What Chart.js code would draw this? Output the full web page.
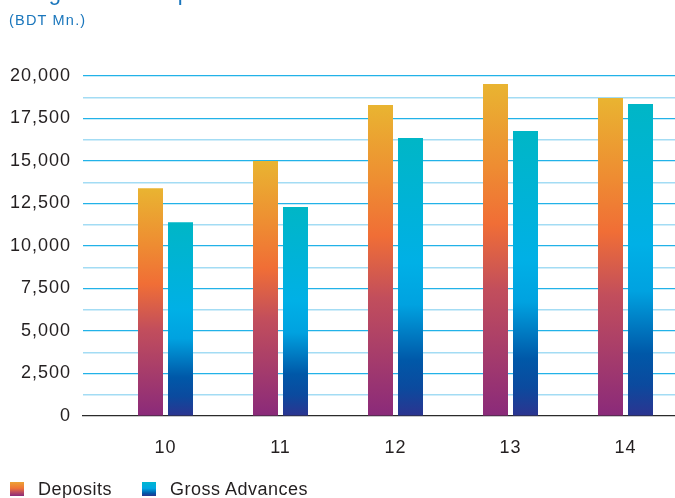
<!DOCTYPE html>
<html>
<head>
<meta charset="utf-8">
<script src="https://cdn.jsdelivr.net/npm/chart.js@4/dist/chart.umd.min.js"></script>
<style>
  html, body { margin: 0; padding: 0; background: #ffffff; }
  #wrap { position: relative; width: 675px; height: 498px; overflow: hidden; font-family: "Liberation Sans", Arial, sans-serif; }
  #chart { position: absolute; left: 0; top: 0; }
  .heading { position: absolute; left: 10px; top: -18px; font-size: 22px; line-height: 22px; letter-spacing: 1.5px; color: #1a76bc; white-space: nowrap; }
  .unit { position: absolute; left: 9px; top: 11px; font-size: 14.5px; line-height: 18px; letter-spacing: 1.2px; color: #1a76bc; white-space: nowrap; }
  .legend { position: absolute; left: 10px; top: 478px; height: 22px; display: flex; align-items: center; font-size: 18px; letter-spacing: 0.5px; color: #231f20; white-space: nowrap; }
  .legend .item { display: flex; align-items: center; margin-right: 30px; }
  .legend .box { width: 14px; height: 14px; margin-right: 14px; }
  .box.dep { background: linear-gradient(to bottom, #eca235 0%, #ef7436 45%, #c24e5c 70%, #8a2a7a 100%); }
  .box.adv { background: linear-gradient(to bottom, #00b6d0 0%, #00a8e4 45%, #0058a8 80%, #2c3490 100%); }
</style>
</head>
<body>
<div id="wrap">
  <canvas id="chart" width="675" height="498"></canvas>
  <div class="heading">Progress of Deposits and Advances</div>
  <div class="unit">(BDT Mn.)</div>
  <div class="legend">
    <div class="item"><div class="box dep"></div><span>Deposits</span></div>
    <div class="item"><div class="box adv"></div><span>Gross Advances</span></div>
  </div>
</div>
<script>
// Years (20xx) shown along the bottom axis
const categories = ['10', '11', '12', '13', '14'];

// Values in BDT million
const deposits = [13400, 15000, 18290, 19530, 18700];
const grossAdvances = [11400, 12300, 16350, 16760, 18350];

// Value axis: labelled every 2,500 with a lighter line halfway between
const yMax = 20000;
const yLabelStep = 2500;
const yGridStep = 1250;

const depositStops = [[0, '#e9b431'], [0.25, '#ee8c32'], [0.42, '#f06e36'], [0.62, '#c24e5c'], [1, '#8a2a7a']];
const advanceStops = [[0, '#00b6c6'], [0.45, '#00b0e6'], [0.6, '#00a2e0'], [0.8, '#0058a8'], [0.9, '#0b4a9e'], [1, '#2c3490']];

// Each bar gets its own vertical gradient, from its top down to the baseline
function barGradient(stops, fallback) {
  return function (ctx) {
    const chart = ctx.chart;
    if (!chart.chartArea || !ctx.parsed) return fallback;
    const y = chart.scales.y;
    const top = y.getPixelForValue(ctx.parsed.y);
    const bottom = y.getPixelForValue(0);
    const g = chart.ctx.createLinearGradient(0, top, 0, bottom);
    stops.forEach(s => g.addColorStop(s[0], s[1]));
    return g;
  };
}

const toPoints = arr => arr.map((v, i) => ({ x: i, y: v }));

// Spacing tweak for axis text
const textSpacing = {
  id: 'textSpacing',
  beforeLayout(chart) { chart.ctx.letterSpacing = '1px'; },
  beforeDraw(chart) { chart.ctx.letterSpacing = '1px'; }
};

// Category positions sit at 0..4; the range leaves room for the label column side
const xMin = -0.7174;
const xMax = 4.4304;

new Chart(document.getElementById('chart'), {
  type: 'bar',
  data: {
    datasets: [
      {
        label: 'Deposits',
        data: toPoints(deposits),
        backgroundColor: barGradient(depositStops, '#ef7436'),
        borderWidth: 0,
        categoryPercentage: 0.5217,
        barPercentage: 0.8333
      },
      {
        label: 'Gross Advances',
        data: toPoints(grossAdvances),
        backgroundColor: barGradient(advanceStops, '#00a8e4'),
        borderWidth: 0,
        categoryPercentage: 0.5217,
        barPercentage: 0.8333
      }
    ]
  },
  plugins: [textSpacing],
  options: {
    responsive: false,
    animation: false,
    devicePixelRatio: 1,
    layout: { padding: { top: 76, left: 0, right: 0, bottom: 22 } },
    plugins: {
      legend: { display: false },
      title: { display: false },
      tooltip: { enabled: false }
    },
    scales: {
      x: {
        type: 'linear',
        offset: false,
        min: xMin,
        max: xMax,
        afterFit(scale) { scale.height = 60; },
        afterBuildTicks(scale) { scale.ticks = categories.map((c, i) => ({ value: i })); },
        grid: { display: false, drawTicks: false, offset: false },
        border: { display: true, color: '#2b2b2b', width: 1.2 },
        ticks: {
          autoSkip: false,
          maxRotation: 0,
          padding: 21,
          color: '#231f20',
          font: { family: '"Liberation Sans", Arial, sans-serif', size: 18 },
          callback: v => categories[v]
        }
      },
      y: {
        min: 0,
        max: yMax,
        afterFit(scale) { scale.width = 83; },
        afterBuildTicks(scale) {
          const t = [];
          for (let v = 0; v <= yMax; v += yGridStep) t.push({ value: v });
          scale.ticks = t;
        },
        border: { display: false },
        grid: {
          drawTicks: false,
          color: c => {
            const v = c.tick ? c.tick.value : 0;
            if (v === 0) return 'rgba(0,0,0,0)';
            return v % yLabelStep === 0 ? '#22b2e8' : '#a3dcf4';
          },
          lineWidth: c => {
            const v = c.tick ? c.tick.value : 0;
            return v % yLabelStep === 0 ? 1.2 : 1.5;
          }
        },
        ticks: {
          autoSkip: false,
          padding: 12,
          color: '#231f20',
          font: { family: '"Liberation Sans", Arial, sans-serif', size: 18 },
          callback: v => (v % yLabelStep === 0 ? v.toLocaleString('en-US') : '')
        }
      }
    }
  }
});
</script>
</body>
</html>
